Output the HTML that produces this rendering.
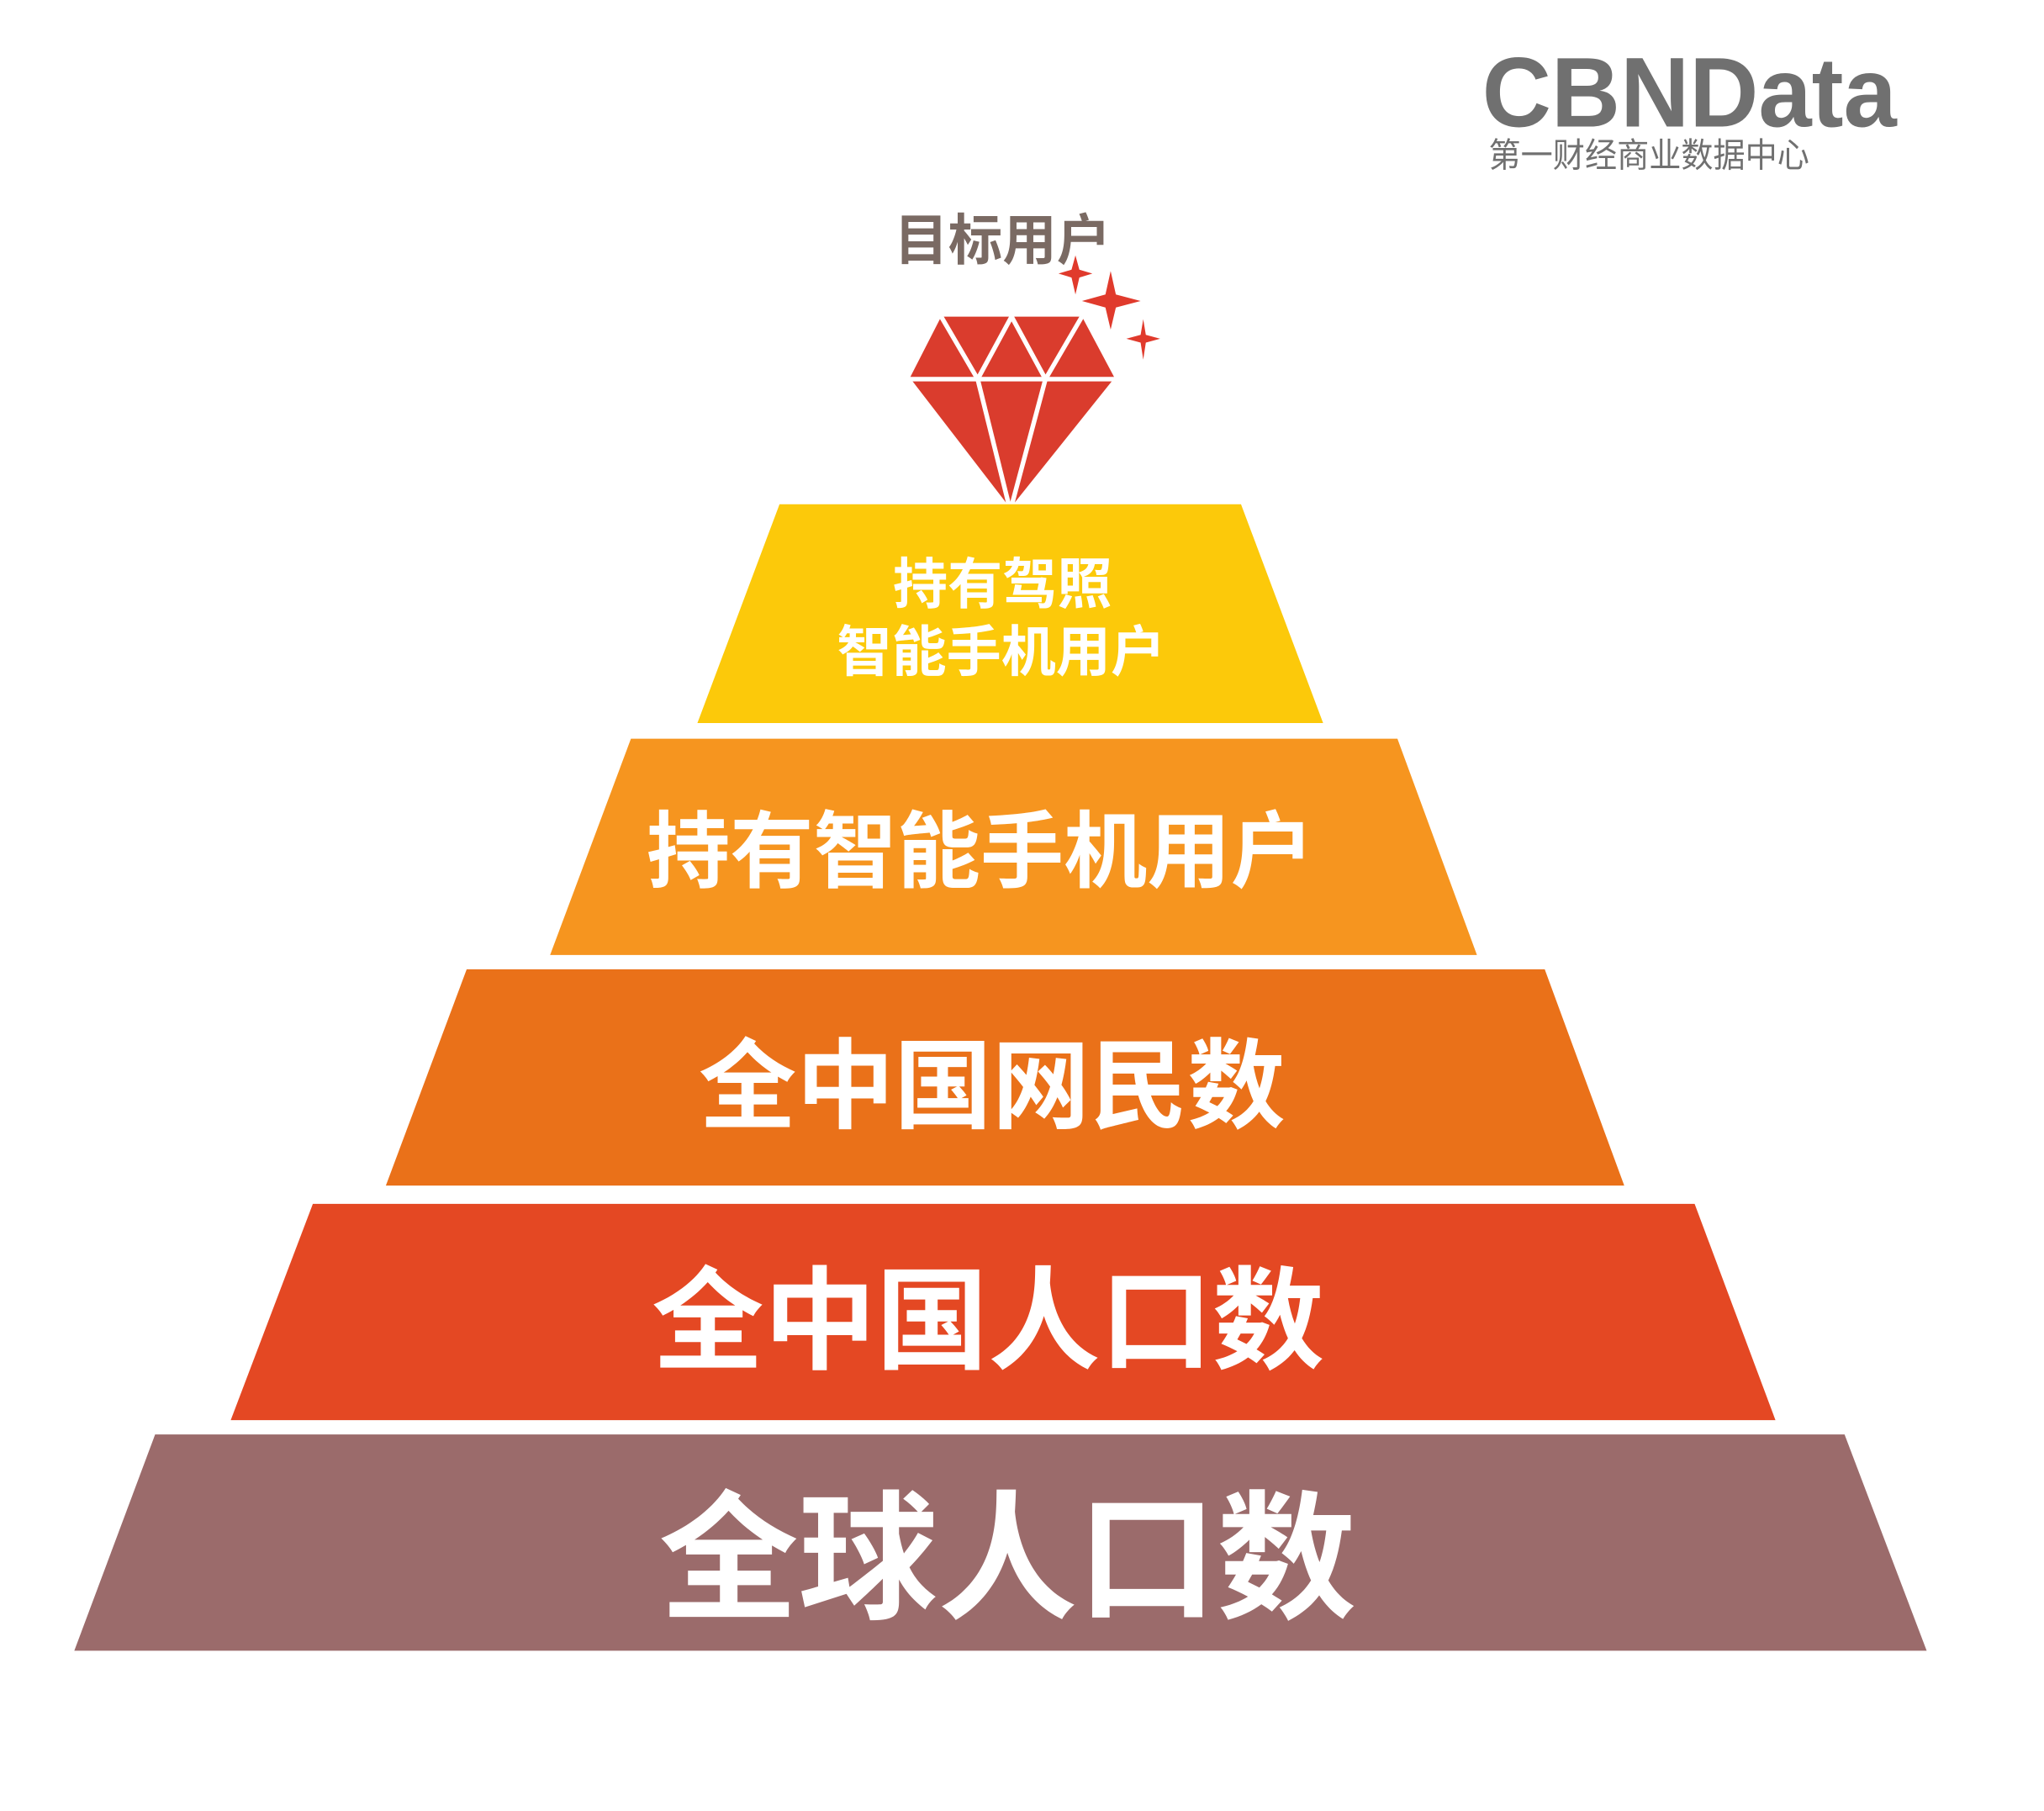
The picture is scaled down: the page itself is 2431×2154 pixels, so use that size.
<!DOCTYPE html>
<html><head><meta charset="utf-8"><style>
html,body{margin:0;padding:0;background:#fff;}
svg{display:block;}
text{font-family:"Liberation Sans","Noto Sans CJK SC",sans-serif;font-weight:bold;}
</style></head><body>
<svg width="2431" height="2154" viewBox="0 0 1568 1390" preserveAspectRatio="none" xmlns="http://www.w3.org/2000/svg">
<rect width="1568" height="1390" fill="#fff"/>
<text x="1137" y="97" font-size="76" fill="#707070" textLength="318" lengthAdjust="spacingAndGlyphs">CBNData</text>
<text x="1142" y="128" font-size="26" fill="#707070" style="font-weight:normal" textLength="246" lengthAdjust="spacingAndGlyphs">第一财经商业数据中心</text>
<text x="686" y="199" font-size="42" fill="#7a6a63" textLength="166" lengthAdjust="spacingAndGlyphs">目标用户</text>
<g fill="#e03a2c">
<path d="M825 196 L828 207 L838 210 L828 213 L825 226 L822 213 L812 210 L822 207Z"/>
<path d="M852 208 L856 226 L875 231 L856 236 L852 253 L848 236 L830 231 L848 226Z"/>
<path d="M877 245 L879 257 L890 260 L879 263 L877 276 L875 263 L864 260 L875 257Z"/>
</g>
<polygon points="722,243 830,243 855,290 775,390 698,290" fill="#da3c2d"/>
<g stroke="#fff" stroke-width="3.5" fill="none">
<line x1="696" y1="291" x2="857" y2="291"/>
<polyline points="722,243 750,291 776,243 802,291 830,243"/>
<line x1="750" y1="291" x2="775" y2="392"/>
<line x1="802" y1="291" x2="775" y2="392"/>
</g>
<polygon points="598,387 952,387 1015,555 535,555" fill="#fcc90a"/>
<polygon points="484,567 1072,567 1133,733 422,733" fill="#f6951f"/>
<polygon points="358,744 1185,744 1246,910 296,910" fill="#ea7119"/>
<polygon points="240,924 1300,924 1362,1090 177,1090" fill="#e44823"/>
<polygon points="119,1101 1415,1101 1478,1267 57,1267" fill="#9b6b6b"/>
<g fill="#fff" text-anchor="middle">
<text x="769" y="463" font-size="42">持有驾照</text>
<text x="768" y="515" font-size="42">智能手机用户</text>
<text x="752" y="676" font-size="64">持有智能手机用户</text>
<text x="761" y="860" font-size="75">全中国网民数</text>
<text x="758" y="1044" font-size="86">全中国人口数</text>
<text x="773" y="1234" font-size="107">全球人口数</text>
</g>
</svg>
</body></html>
